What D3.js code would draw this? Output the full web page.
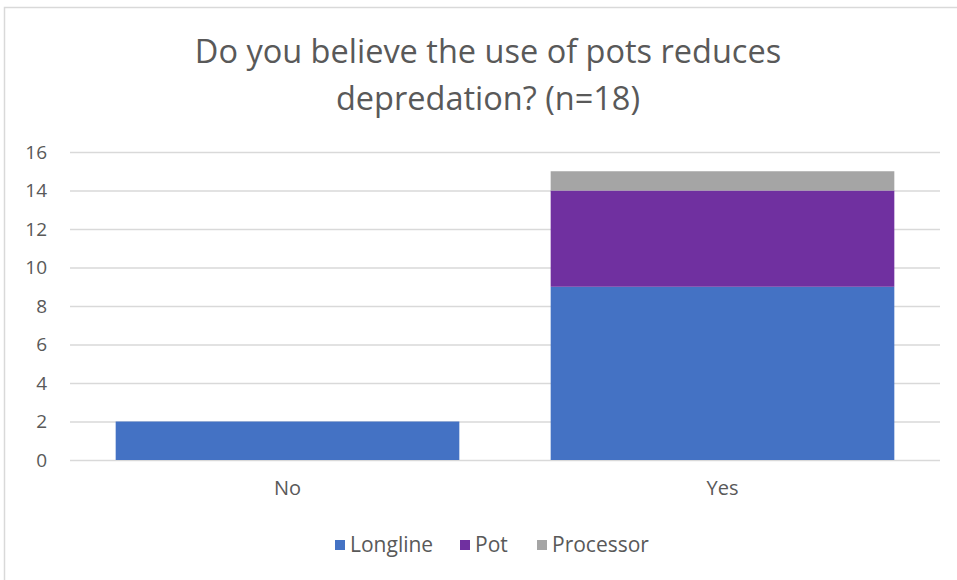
<!DOCTYPE html>
<html><head><meta charset="utf-8">
<script src="https://cdn.jsdelivr.net/npm/d3@7"></script>
<style>body{margin:0;background:#fff}svg{display:block}text{font-family:"Open Sans",sans-serif;fill:#595959}</style>
</head><body><svg width="957" height="580"></svg>
<script>
const categories = ["No", "Yes"];
const seriesNames = ["Longline", "Pot", "Processor"];
const longline = [2, 9];
const pot = [0, 5];
const processor = [0, 1];
const yTicks = [0, 2, 4, 6, 8, 10, 12, 14, 16];
const titleLines = ["Do you believe the use of pots reduces", "depredation? (n=18)"];
const colors = ["#4472C4", "#7030A0", "#A5A5A5"];

const svg = d3.select("svg");
svg.append("rect").attr("x", 4.5).attr("y", 7.5).attr("width", 960).attr("height", 600)
  .attr("fill", "#fff").attr("stroke", "#D9D9D9").attr("stroke-width", 1.5);

const mLeft = 70, mRight = 940, mTop = 152, mBottom = 460;
const x = d3.scaleBand().domain(categories).range([mLeft, mRight]).paddingInner(0.21).paddingOuter(0.105);
const y = d3.scaleLinear().domain([0, 16]).range([mBottom, mTop]);

// title
svg.append("g").selectAll("text").data(titleLines).join("text")
  .attr("x", 488).attr("y", (d, i) => 63 + i * 47).attr("text-anchor", "middle")
  .style("font-size", "32.5px").text(d => d);

// grid
const yAxis = d3.axisLeft(y).tickValues(yTicks).tickSize(-(mRight - mLeft)).tickPadding(23);
const ga = svg.append("g").attr("transform", `translate(${mLeft},0)`).call(yAxis);
ga.select(".domain").remove();
ga.selectAll(".tick line").attr("stroke", "#D9D9D9").attr("stroke-width", 1.3);
ga.selectAll(".tick text").style("font-size", "19px").style("fill", "#595959");

// stacked data
const rows = categories.map((c, i) => ({cat: c, Longline: longline[i], Pot: pot[i], Processor: processor[i]}));
const stack = d3.stack().keys(seriesNames)(rows);
svg.append("g").selectAll("g").data(stack).join("g").attr("fill", (d, i) => colors[i])
  .selectAll("rect").data(d => d.filter(p => p[1] - p[0] > 0)).join("rect")
  .attr("x", d => x(d.data.cat)).attr("width", x.bandwidth())
  .attr("y", d => y(d[1])).attr("height", d => y(d[0]) - y(d[1]));

// x axis labels
const xAxis = d3.axisBottom(x).tickSize(0).tickPadding(21);
const gx = svg.append("g").attr("transform", `translate(0,${mBottom})`).call(xAxis);
gx.select(".domain").remove();
gx.selectAll(".tick text").style("font-size", "20px").style("fill", "#595959");

// legend
const legendX = [335, 460, 537];
const lg = svg.append("g").selectAll("g").data(seriesNames).join("g")
  .attr("transform", (d, i) => `translate(${legendX[i]},545)`);
lg.append("rect").attr("x", 0).attr("y", -5).attr("width", 10).attr("height", 10).attr("fill", (d, i) => colors[i]);
lg.append("text").attr("x", 15).attr("y", 7).style("font-size", "21px").text(d => d);
</script></body></html>
